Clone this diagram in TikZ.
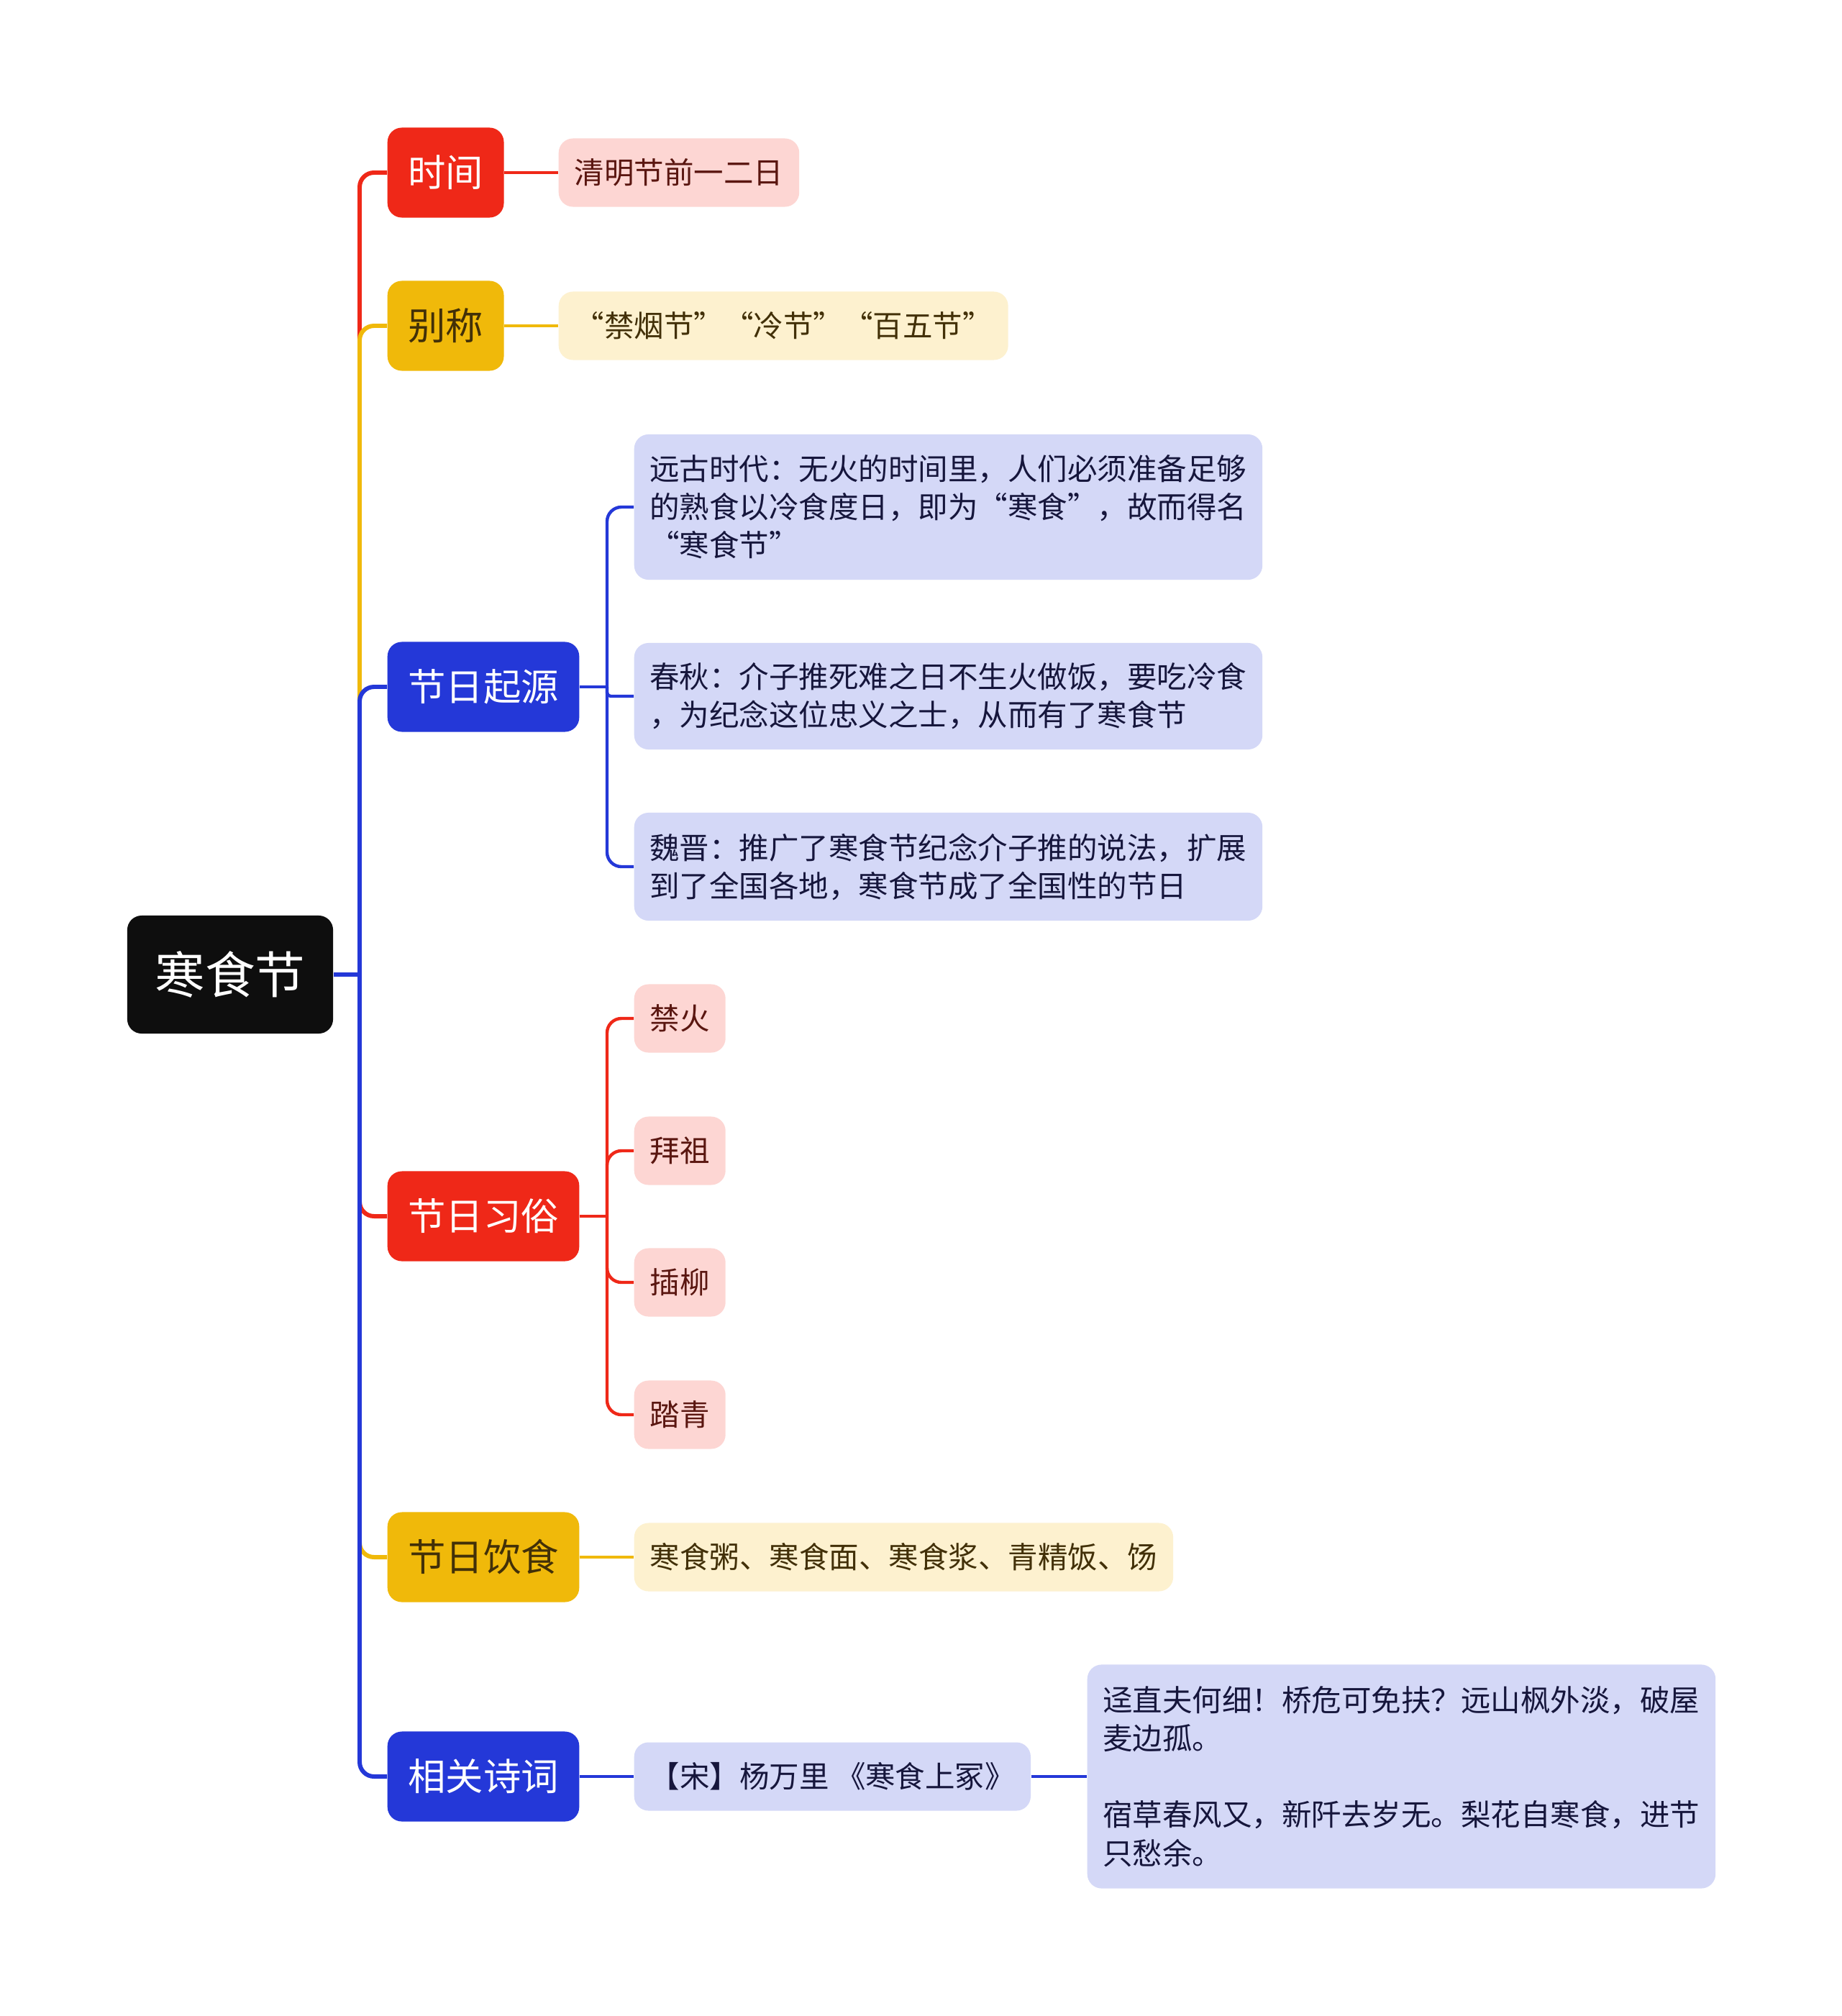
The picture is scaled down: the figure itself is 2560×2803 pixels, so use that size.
\documentclass[tikz,border=0pt]{standalone}
\usepackage{fontspec}
\usetikzlibrary{positioning,calc}
\newfontfamily\cjk{Noto Sans CJK SC}
\definecolor{FestRed}{RGB}{239,40,24}
\definecolor{FestGold}{RGB}{240,185,10}
\definecolor{FestBlue}{RGB}{36,56,216}
\definecolor{LeafRed}{RGB}{253,214,211}
\definecolor{LeafGold}{RGB}{253,241,207}
\definecolor{LeafBlue}{RGB}{212,216,247}
\definecolor{InkRed}{RGB}{90,22,16}
\definecolor{InkGold}{RGB}{66,48,8}
\definecolor{InkBlue}{RGB}{22,22,60}
\definecolor{RootBlack}{RGB}{14,14,14}

\begin{document}
\begin{tikzpicture}[
  x=0.01cm,y=-0.01cm,
  rootbox/.style={rectangle,rounded corners=0.2cm,fill=RootBlack,text=white,minimum width=2.86cm,minimum height=1.64cm,font=\cjk\fontsize{19.8pt}{24pt}\selectfont},
  topic/.style={rectangle,rounded corners=0.2cm,anchor=west,inner xsep=0.285cm,minimum height=1.25cm,font=\cjk\fontsize{14.9pt}{18pt}\selectfont},
  leaf/.style={rectangle,rounded corners=0.2cm,anchor=west,inner xsep=0.22cm,minimum height=0.95cm,font=\cjk\fontsize{11.8pt}{15.1pt}\selectfont},
  para/.style={leaf,align=left,text width=8.3cm,inner xsep=0.215cm},
  trunk/.style={line width=1.7pt,rounded corners=0.2cm},
  twig/.style={line width=1.25pt,rounded corners=0.2cm}
]
  \path[fill=white,use as bounding box] (0,0) rectangle (2560,2803);

  % root and main topics
  \node[rootbox] (root) at (320,1355) {寒食节};
  \node[topic,fill=FestRed,text=white] (shijian) at (538,240) {时间};
  \node[topic,fill=FestGold,text=InkGold] (biecheng) at (538,453) {别称};
  \node[topic,fill=FestBlue,text=white] (qiyuan) at (538,955) {节日起源};
  \node[topic,fill=FestRed,text=white] (xisu) at (538,1691) {节日习俗};
  \node[topic,fill=FestGold,text=InkGold] (yinshi) at (538,2165) {节日饮食};
  \node[topic,fill=FestBlue,text=white] (shici) at (538,2470) {相关诗词};

  % details
  \node[leaf,fill=LeafRed,text=InkRed] (qingming) at (776,240) {清明节前一二日};
  \node[leaf,fill=LeafGold,text=InkGold] (jinyan) at (776,453) {“禁烟节”“冷节”“百五节”};
  \node[para,fill=LeafBlue,text=InkBlue,minimum height=2.02cm] (yuangu) at (881,705)
    {远古时代：无火的时间里，人们必须准备足够\\的熟食以冷食度日，即为“寒食”，故而得名\\“寒食节”};
  \node[para,fill=LeafBlue,text=InkBlue,minimum height=1.48cm] (chunqiu) at (881,968)
    {春秋：介子推死难之日不生火做饭，要吃冷食\\，为纪念这位忠义之士，从而有了寒食节};
  \node[para,fill=LeafBlue,text=InkBlue,minimum height=1.50cm] (weijin) at (881,1205)
    {魏晋：推广了寒食节纪念介子推的说法，扩展\\到了全国各地，寒食节成了全国性的节日};
  \node[leaf,fill=LeafRed,text=InkRed] (jinhuo) at (881,1416) {禁火};
  \node[leaf,fill=LeafRed,text=InkRed] (baizu) at (881,1600) {拜祖};
  \node[leaf,fill=LeafRed,text=InkRed] (chaliu) at (881,1783) {插柳};
  \node[leaf,fill=LeafRed,text=InkRed] (taqing) at (881,1967) {踏青};
  \node[leaf,fill=LeafGold,text=InkGold] (shiwu) at (881,2165) {寒食粥、寒食面、寒食浆、青精饭、饧};
  \node[leaf,fill=LeafBlue,text=InkBlue] (song) at (881,2470) {【宋】杨万里 《寒食上冢》};
  \node[para,fill=LeafBlue,text=InkBlue,minimum height=3.11cm] (poem) at (1511,2470)
    {迳直夫何细！桥危可免扶？远山枫外淡，破屋\\麦边孤。\\[\baselineskip]宿草春风又，新阡去岁无。梨花自寒食，进节\\只愁余。};

  \coordinate (hub) at (500,1355);
  \coordinate (qybar) at (844,955);
  \coordinate (xsbar) at (844,1691);

  % main branches
  \draw[trunk,FestRed] (hub) |- (shijian.west);
  \draw[trunk,FestGold] (hub) |- (biecheng.west);
  \draw[trunk,FestRed] (hub) |- (xisu.west);
  \draw[trunk,FestGold] (hub) |- (yinshi.west);
  \draw[trunk,FestBlue] (hub) |- (qiyuan.west);
  \draw[trunk,FestBlue] (hub) |- (shici.west);
  \draw[trunk,FestBlue] (root.east) -- (hub);

  % sub branches
  \draw[twig,FestRed] (shijian.east) -- (qingming.west);
  \draw[twig,FestGold] (biecheng.east) -- (jinyan.west);
  \draw[twig,FestBlue] (qiyuan.east) -- (qybar);
  \draw[twig,FestBlue] (qybar) |- (yuangu.west);
  \draw[twig,FestBlue,rounded corners=0.05cm] (qybar) |- (chunqiu.west);
  \draw[twig,FestBlue] (qybar) |- (weijin.west);
  \draw[twig,FestRed] (xisu.east) -- (xsbar);
  \foreach \n in {jinhuo,baizu,chaliu,taqing}
    \draw[twig,FestRed] (xsbar) |- (\n.west);
  \draw[twig,FestGold] (yinshi.east) -- (shiwu.west);
  \draw[twig,FestBlue] (shici.east) -- (song.west);
  \draw[twig,FestBlue] (song.east) -- (poem.west);
\end{tikzpicture}
\end{document}
